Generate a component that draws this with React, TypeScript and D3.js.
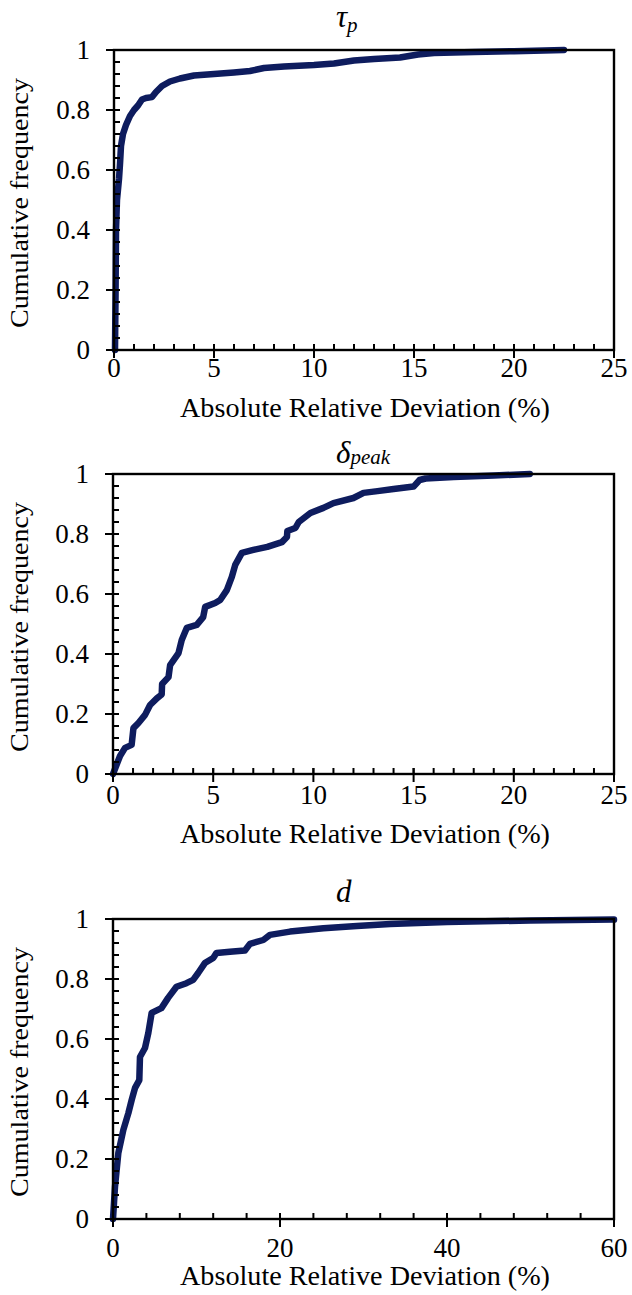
import React from "react";
import * as d3 from "d3";

// tau_p panel: absolute relative deviation (%) vs cumulative frequency
const tauX = [0.05, 0.08, 0.1, 0.15, 0.25, 0.3, 0.35, 0.45, 0.6, 0.8, 1.0, 1.2, 1.4, 1.6, 1.9, 2.1, 2.4, 2.8, 3.3, 4, 5, 6, 6.8, 7.5, 8.5, 10, 11, 12, 13, 14.3, 15.2, 16, 18, 20, 22.5];
const tauY = [0, 0.2, 0.4, 0.5, 0.57, 0.62, 0.68, 0.72, 0.75, 0.78, 0.8, 0.815, 0.835, 0.84, 0.843, 0.86, 0.88, 0.895, 0.905, 0.915, 0.92, 0.925, 0.93, 0.94, 0.945, 0.95, 0.955, 0.965, 0.97, 0.975, 0.985, 0.99, 0.993, 0.996, 1.0];

// delta_peak panel
const peakX = [0, 0.35, 0.6, 0.93, 1.02, 1.27, 1.6, 1.85, 2.2, 2.43, 2.45, 2.77, 2.85, 3.27, 3.43, 3.68, 4.18, 4.5, 4.6, 5.1, 5.35, 5.68, 5.93, 6.1, 6.43, 7.0, 7.7, 8.43, 8.68, 8.7, 9.1, 9.27, 9.85, 10.5, 11.0, 12.0, 12.5, 13.2, 14, 15, 15.3, 15.6, 17, 19, 20.8];
const peakY = [0, 0.06, 0.087, 0.097, 0.153, 0.17, 0.197, 0.23, 0.253, 0.265, 0.3, 0.323, 0.363, 0.403, 0.447, 0.487, 0.497, 0.523, 0.557, 0.57, 0.58, 0.613, 0.657, 0.697, 0.737, 0.747, 0.757, 0.773, 0.79, 0.81, 0.82, 0.84, 0.87, 0.887, 0.903, 0.92, 0.937, 0.943, 0.95, 0.958, 0.98, 0.985, 0.99, 0.995, 1.0];

// d panel
const dX = [0, 0.24, 0.64, 1.24, 1.84, 2.24, 2.64, 3.15, 3.23, 3.83, 4.23, 4.63, 5.8, 6.6, 7.6, 8.8, 9.6, 10.2, 11, 12, 12.4, 14, 15.8, 16.4, 18, 18.8, 21.2, 25.2, 29.2, 33.2, 40, 50, 60];
const dY = [0, 0.108, 0.22, 0.297, 0.353, 0.397, 0.437, 0.463, 0.54, 0.57, 0.62, 0.687, 0.703, 0.737, 0.774, 0.786, 0.797, 0.82, 0.853, 0.87, 0.887, 0.891, 0.895, 0.917, 0.93, 0.947, 0.958, 0.969, 0.977, 0.983, 0.99, 0.995, 0.998];

const yTicks = [0, 0.2, 0.4, 0.6, 0.8, 1];
const xTicksShort = [0, 5, 10, 15, 20, 25];
const xTicksLong = [0, 20, 40, 60];

const FONT = "Liberation Serif";
const LINE = "#0e1c5e";

type PanelProps = {
  top: number;
  left: number;
  xs: number[];
  ys: number[];
  xTicks: number[];
  xMinorStep: number;
  main: string;
  sub?: string;
  subDy?: number;
  titleY: number;
  tickY: number;
  labelY: number;
};

function Panel(p: PanelProps) {
  const right = 614;
  const bottom = p.top + 300;
  const xMax = p.xTicks[p.xTicks.length - 1];
  const x = d3.scaleLinear().domain([0, xMax]).range([p.left, right]);
  const y = d3.scaleLinear().domain([0, 1]).range([bottom, p.top]);
  const line = d3
    .line<number>()
    .x((d) => x(d))
    .y((_, i) => y(p.ys[i]));

  // minor ticks: every 0.04 on y, every xMinorStep on x
  const yMinor = d3.range(0, 1.0001, 0.04).filter((v) => Math.abs(v / 0.2 - Math.round(v / 0.2)) > 1e-6);
  const xMinor = d3.range(0, xMax + 1e-6, p.xMinorStep);

  return (
    <g fill="#000" fontFamily={FONT}>
      <text x={336} y={p.titleY} fontSize={31} fontStyle="italic">
        {p.main}
        {p.sub && (
          <tspan fontSize={21} dy={p.subDy}>
            {p.sub}
          </tspan>
        )}
      </text>

      <path d={line(p.xs) || ""} fill="none" stroke={LINE} strokeWidth={6.5} strokeLinejoin="round" strokeLinecap="round" />

      <rect x={p.left} y={p.top} width={right - p.left} height={300} fill="none" stroke="#000" strokeWidth={2.4} />

      {yMinor.map((v) => (
        <line key={"ym" + v} x1={p.left} x2={p.left + 6} y1={y(v)} y2={y(v)} stroke="#000" strokeWidth={2} />
      ))}
      {yTicks.map((v) => (
        <g key={"y" + v}>
          <line x1={p.left - 8} x2={p.left + 6} y1={y(v)} y2={y(v)} stroke="#000" strokeWidth={2} />
          <text x={p.left - 24} y={y(v) + 9} fontSize={27} textAnchor="end">
            {v}
          </text>
        </g>
      ))}

      {xMinor.map((v) => (
        <line key={"xm" + v} x1={x(v)} x2={x(v)} y1={bottom} y2={bottom - 6} stroke="#000" strokeWidth={2} />
      ))}
      {p.xTicks.map((v) => (
        <g key={"x" + v}>
          <line x1={x(v)} x2={x(v)} y1={bottom + 8} y2={bottom - 6} stroke="#000" strokeWidth={2} />
          <text x={x(v)} y={p.tickY} fontSize={27} textAnchor="middle">
            {v}
          </text>
        </g>
      ))}

      <text x={365} y={p.labelY} fontSize={27} textAnchor="middle" textLength={370} lengthAdjust="spacingAndGlyphs">
        Absolute Relative Deviation (%)
      </text>
      <text
        transform={`translate(28, ${(p.top + bottom) / 2 + 3}) rotate(-90)`}
        fontSize={26}
        textAnchor="middle"
        textLength={250}
        lengthAdjust="spacingAndGlyphs"
      >
        Cumulative frequency
      </text>
    </g>
  );
}

export default function App() {
  return (
    <svg width={632} height={1295} style={{ position: "absolute", left: 0, top: 0, background: "#fff" }}>
      <rect width={632} height={1295} fill="#fff" />
      <Panel top={50} left={114} xs={tauX} ys={tauY} xTicks={xTicksShort} xMinorStep={1} main="τ" sub="p" subDy={5} titleY={27} tickY={377} labelY={417} />
      <Panel top={474} left={113} xs={peakX} ys={peakY} xTicks={xTicksShort} xMinorStep={1} main="δ" sub="peak" subDy={1} titleY={463} tickY={804} labelY={843} />
      <Panel top={919} left={113} xs={dX} ys={dY} xTicks={xTicksLong} xMinorStep={4} main="d" titleY={902} tickY={1257} labelY={1285} />
    </svg>
  );
}
